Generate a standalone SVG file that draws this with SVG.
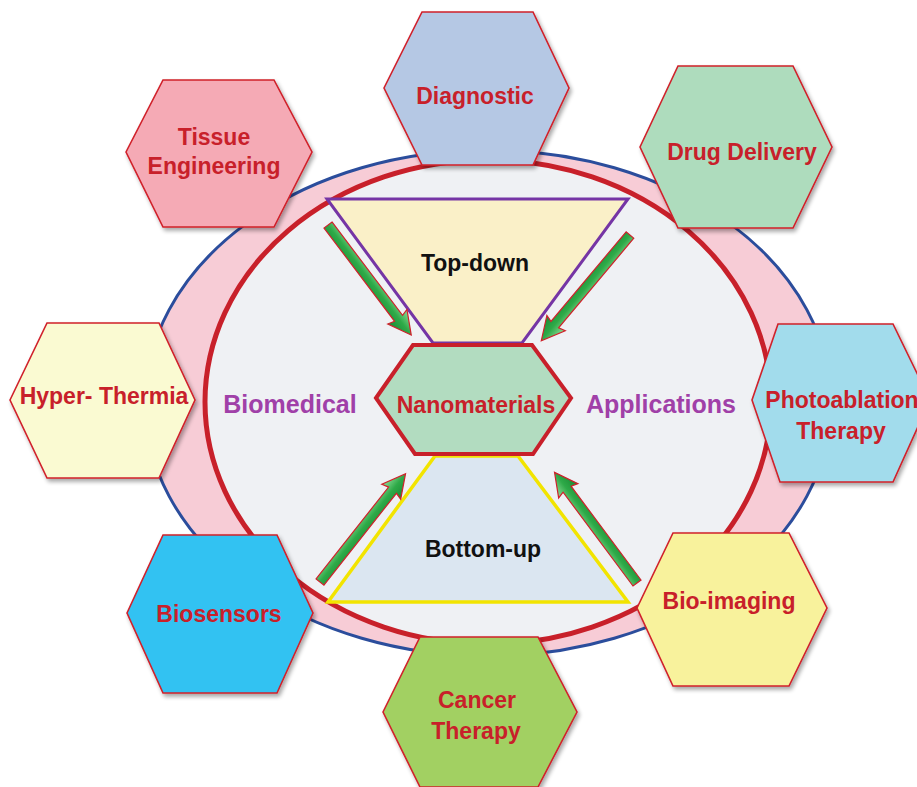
<svg xmlns="http://www.w3.org/2000/svg" width="917" height="787" viewBox="0 0 917 787">
<style>
.hex{stroke:#d0202a;stroke-width:1.6;filter:url(#sh)}
.t{font-family:"Liberation Sans",Arial,sans-serif;font-weight:bold;font-size:23px;fill:#c8202a;text-anchor:middle}
.k{font-family:"Liberation Sans",Arial,sans-serif;font-weight:bold;font-size:23px;fill:#111;text-anchor:middle}
.p{font-family:"Liberation Sans",Arial,sans-serif;font-weight:bold;font-size:25px;fill:#a040a8;text-anchor:middle}
.arr{fill:url(#ag);stroke:#d0202a;stroke-width:1.2;stroke-linejoin:miter}
</style>
<defs>
<filter id="sh" x="-10%" y="-10%" width="125%" height="125%">
<feGaussianBlur in="SourceAlpha" stdDeviation="2"/>
<feOffset dx="2" dy="3" result="b"/>
<feComponentTransfer><feFuncA type="linear" slope="0.35"/></feComponentTransfer>
<feMerge><feMergeNode/><feMergeNode in="SourceGraphic"/></feMerge>
</filter>
<linearGradient id="ag" x1="0" y1="0" x2="0" y2="1">
<stop offset="0" stop-color="#8fdc98"/>
<stop offset="0.5" stop-color="#2eaa48"/>
<stop offset="1" stop-color="#1a8a34"/>
</linearGradient>
<path id="arrow" class="arr" d="M0,-5 L117,-5 L115,-12 L138,0 L115,12 L117,5 L0,5 Z"/>
</defs>
<rect width="917" height="787" fill="#ffffff"/>
<g id="background">
<ellipse cx="488" cy="403" rx="343" ry="253" fill="#f7ccd6" stroke="#2b4d9c" stroke-width="3"/>
<ellipse cx="488" cy="402" rx="283" ry="242" fill="#eff1f4" stroke="#c8202a" stroke-width="5"/>
</g>
<g id="top-down">
<polygon points="327,199 628,199 522,343 433,343" fill="#faf0c8" stroke="#7535a5" stroke-width="3"/>
<text class="k" x="475" y="271">Top-down</text>
</g>
<g id="bottom-up">
<polygon points="435,456 518,456 628,602 328,602" fill="#dbe6f1" stroke="#f2e400" stroke-width="3.5"/>
<text class="k" x="483" y="557">Bottom-up</text>
</g>
<g id="connectors">
<use href="#arrow" transform="translate(328,225) rotate(52.9)"/>
<use href="#arrow" transform="translate(630,235) rotate(130)"/>
<use href="#arrow" transform="translate(320,582) rotate(-51.7)"/>
<use href="#arrow" transform="translate(637,583) rotate(-126.7)"/>
</g>
<g id="nanomaterials">
<polygon points="376,398 413,345 532,345 571,398 533,454 415,454" fill="#b2dcc0" stroke="#c8202a" stroke-width="4"/>
<text class="t" x="476" y="413">Nanomaterials</text>
</g>
<g id="label-biomedical"><text class="p" x="290" y="413">Biomedical</text></g>
<g id="label-applications"><text class="p" x="661" y="413">Applications</text></g>
<g id="tissue-engineering">
<polygon class="hex" points="126,152 163,80 274,80 312,152 274,227 163,227" fill="#f5aab5"/>
<text class="t" x="214" y="145">Tissue</text>
<text class="t" x="214" y="174">Engineering</text>
</g>
<g id="diagnostic">
<polygon class="hex" points="384,88 422,12 533,12 569,88 533,165 422,165" fill="#b5c8e4"/>
<text class="t" x="475" y="104">Diagnostic</text>
</g>
<g id="drug-delivery">
<polygon class="hex" points="640,147 678,66 793,66 832,147 793,228 678,228" fill="#aedcbd"/>
<text class="t" x="742" y="160">Drug Delivery</text>
</g>
<g id="hyper-thermia">
<polygon class="hex" points="10,400 47,323 159,323 195,400 159,478 47,478" fill="#fafad2"/>
<text class="t" x="104" y="404">Hyper- Thermia</text>
</g>
<g id="photoablation-therapy">
<polygon class="hex" points="752,400 778,324 893,324 930,400 893,482 780,482" fill="#a2dcec"/>
<text class="t" x="842" y="408">Photoablation</text>
<text class="t" x="841" y="439">Therapy</text>
</g>
<g id="biosensors">
<polygon class="hex" points="127,613 163,535 277,535 313,613 277,693 163,693" fill="#30c2f2"/>
<text class="t" x="219" y="622">Biosensors</text>
</g>
<g id="bio-imaging">
<polygon class="hex" points="637,608 673,533 789,533 827,608 789,686 673,686" fill="#f8f29c"/>
<text class="t" x="729" y="609">Bio-imaging</text>
</g>
<g id="cancer-therapy">
<polygon class="hex" points="383,712 420,637 538,637 577,712 538,787 420,787" fill="#a2d062"/>
<text class="t" x="477" y="708">Cancer</text>
<text class="t" x="476" y="739">Therapy</text>
</g>
</svg>
